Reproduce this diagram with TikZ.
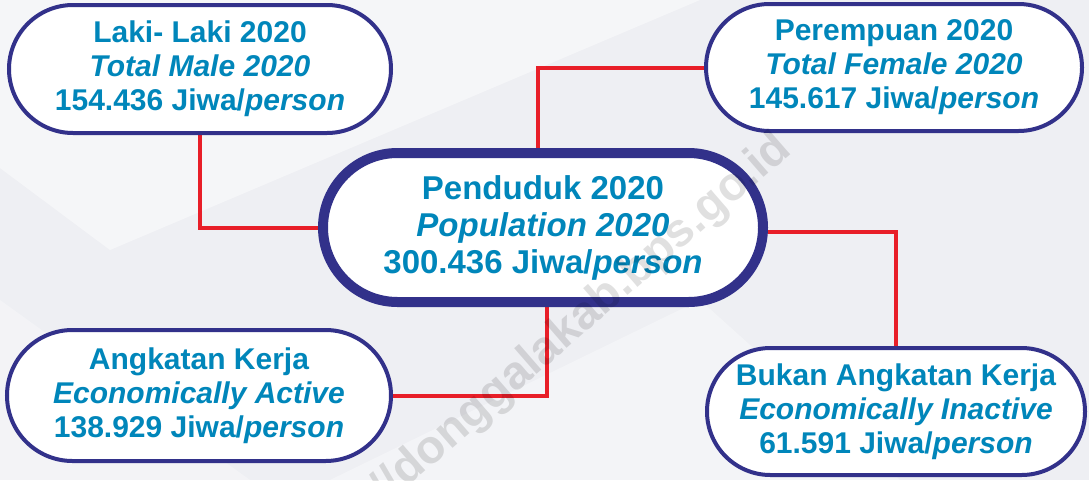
\documentclass[tikz,border=0pt]{standalone}
\usepackage{fontspec}
\setmainfont{Liberation Sans}
\usetikzlibrary{shapes.misc}
\definecolor{navy}{RGB}{50,49,138}
\definecolor{txtblue}{RGB}{0,134,186}
\definecolor{linered}{RGB}{232,30,40}
\definecolor{bgcol}{RGB}{238,239,243}
\pgfdeclarelayer{bg}
\pgfdeclarelayer{lines}
\pgfsetlayers{bg,lines,main}
\tikzset{
  pill/.style={rounded rectangle, draw=navy, line width=4pt, fill=white,
    inner sep=0pt, text=txtblue, align=center,
    font=\bfseries\fontsize{30}{34}\selectfont},
  bigpill/.style={pill, line width=10pt, font=\bfseries\fontsize{33}{37}\selectfont},
  link/.style={draw=linered, line width=4pt},
  wmark/.style={text=black, opacity=0.12, rotate=41, inner sep=0pt,
    font=\bfseries\fontsize{47}{47}\selectfont},
}
\begin{document}
\begin{tikzpicture}[x=1pt,y=-1pt]
\begin{pgfonlayer}{bg}
  \fill[bgcol] (0,0) rectangle (1089,480);
  \fill[white,opacity=0.45] (0,0) -- (700,0) -- (110,250) -- (0,168) -- cycle;
  \fill[white,opacity=0.35] (330,480) -- (700,300) -- (900,480) -- cycle;
  \fill[white,opacity=0.3] (0,300) -- (250,480) -- (0,480) -- cycle;
\end{pgfonlayer}
\useasboundingbox (0,0) rectangle (1089,480);

\node[pill, minimum width=382pt, minimum height=128pt] (male) at (200,69)
  {Laki- Laki 2020\\\textit{Total Male 2020}\\154.436 Jiwa/\textit{person}};
\node[pill, minimum width=376pt, minimum height=127pt] (female) at (894,67.5)
  {Perempuan 2020\\\textit{Total Female 2020}\\145.617 Jiwa/\textit{person}};
\node[bigpill, minimum width=440pt, minimum height=149pt] (pop) at (543,227.5)
  {Penduduk 2020\\\textit{Population 2020}\\300.436 Jiwa/\textit{person}};
\node[pill, minimum width=384pt, minimum height=131pt] (active) at (199,395.5)
  {Angkatan Kerja\\\textit{Economically Active}\\138.929 Jiwa/\textit{person}};
\node[pill, minimum width=378pt, minimum height=127pt] (inactive) at (896,411.5)
  {Bukan Angkatan Kerja\\\textit{Economically Inactive}\\61.591 Jiwa/\textit{person}};

\begin{pgfonlayer}{lines}
  \draw[link] (male.south) |- (pop.west);
  \draw[link] ([xshift=-5pt]pop.north) |- (female.west);
  \draw[link] ([yshift=-4.5pt]pop.east) -| (inactive.north);
  \draw[link] ([xshift=4pt]pop.south) |- (active.east);
\end{pgfonlayer}

\begin{scope}
  \clip (0,0) rectangle (1089,480);
  \node[wmark] (wm1) at (592,311) {donggalakab.bps.go.id};
  \node[wmark, anchor=base east] (wm0) at (wm1.base west) {https://};
\end{scope}
\end{tikzpicture}
\end{document}
